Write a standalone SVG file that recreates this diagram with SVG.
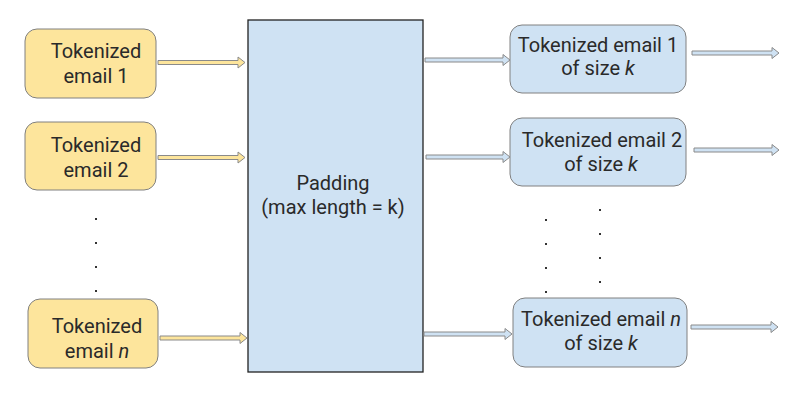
<svg xmlns="http://www.w3.org/2000/svg" width="795" height="403" viewBox="0 0 795 403">
<style>
.y{fill:#fde59c;stroke:#808080;stroke-width:1}
.b{fill:#cfe2f3;stroke:#808080;stroke-width:1}
.c{fill:#cfe2f3;stroke:#222;stroke-width:1.3}
.ay{fill:#fde59c;stroke:#8a8a8a;stroke-width:1}
.ab{fill:#cfe2f3;stroke:#8a8a8a;stroke-width:1}
text{font-family:Roboto,"Liberation Sans",sans-serif;font-size:20px;fill:#2a2a2a;text-anchor:middle}
.d{fill:#333}
</style>
<g id="in1"><rect class="y" x="25" y="29" width="131" height="69" rx="12"/><text x="96" y="58">Tokenized</text><text x="96" y="83">email 1</text></g>
<g id="in2"><rect class="y" x="25" y="122" width="131" height="68" rx="12"/><text x="96" y="152">Tokenized</text><text x="96" y="177">email 2</text></g>
<g id="inn"><rect class="y" x="28" y="299" width="130" height="69" rx="12"/><text x="97" y="333">Tokenized</text><text x="97" y="358">email <tspan font-style="italic">n</tspan></text></g>
<g id="pad"><rect class="c" x="248" y="20" width="175" height="352"/><text x="333" y="190">Padding</text><text x="333" y="214">(max length = k)</text></g>
<g id="out1"><rect class="b" x="510" y="25" width="176" height="68" rx="12"/><text x="598" y="52">Tokenized email 1</text><text x="598" y="75">of size <tspan font-style="italic">k</tspan></text></g>
<g id="out2"><rect class="b" x="510" y="118" width="176" height="68" rx="12"/><text x="602" y="147">Tokenized email 2</text><text x="601" y="171">of size <tspan font-style="italic">k</tspan></text></g>
<g id="outn"><rect class="b" x="513" y="298" width="174" height="69" rx="12"/><text x="601" y="326">Tokenized email <tspan font-style="italic">n</tspan></text><text x="601" y="350">of size <tspan font-style="italic">k</tspan></text></g>
<g id="dots">
<rect class="d" x="95" y="218" width="2" height="2"/><rect class="d" x="95" y="242" width="2" height="2"/><rect class="d" x="95" y="266" width="2" height="2"/><rect class="d" x="95" y="290" width="2" height="2"/>
<rect class="d" x="545" y="219" width="2" height="2"/><rect class="d" x="545" y="243" width="2" height="2"/><rect class="d" x="545" y="267" width="2" height="2"/><rect class="d" x="545" y="291" width="2" height="2"/>
<rect class="d" x="599" y="209" width="2" height="2"/><rect class="d" x="599" y="233" width="2" height="2"/><rect class="d" x="599" y="257" width="2" height="2"/><rect class="d" x="599" y="281" width="2" height="2"/>
</g>
<g id="connectors">
<path class="ay" d="M158,60.5 H238 V57 L245,62.5 L238,68 V64.5 H158 Z"/>
<path class="ay" d="M158,155.5 H238 V152 L245,157.5 L238,163 V159.5 H158 Z"/>
<path class="ay" d="M160,336 H240 V332.5 L247,338 L240,343.5 V340 H160 Z"/>
<path class="ab" d="M425,58 H503 V54.5 L510,60 L503,65.5 V62 H425 Z"/>
<path class="ab" d="M426,155 H503 V151.5 L510,157 L503,162.5 V159 H426 Z"/>
<path class="ab" d="M424,332 H505 V328.5 L512,334 L505,339.5 V336 H424 Z"/>
<path class="ab" d="M692,51 H772 V47.5 L779,53 L772,58.5 V55 H692 Z"/>
<path class="ab" d="M694,148 H772 V144.5 L779,150 L772,155.5 V152 H694 Z"/>
<path class="ab" d="M691,325 H771 V321.5 L778,327 L771,332.5 V329 H691 Z"/>
</g>
</svg>
